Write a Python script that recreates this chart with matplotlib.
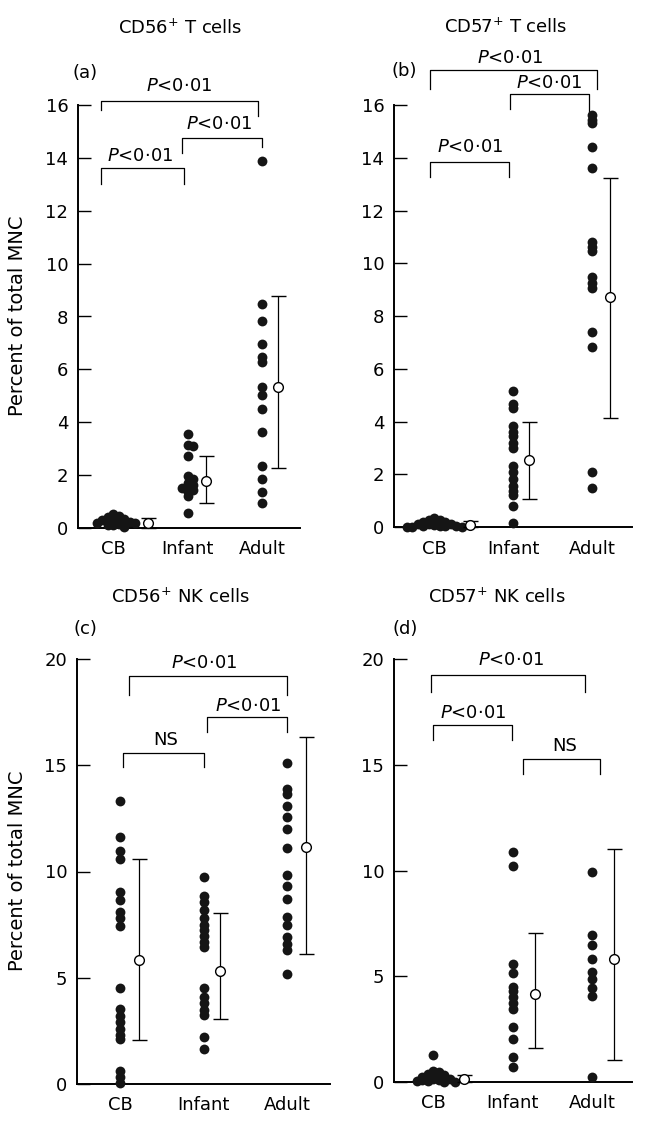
import numpy as np
import matplotlib
matplotlib.use('Agg')
import matplotlib.pyplot as plt

plt.rcParams['font.family'] = ['DejaVu Sans']
plt.rcParams['mathtext.fontset'] = 'custom'
plt.rcParams['mathtext.rm'] = 'DejaVu Sans'
plt.rcParams['mathtext.it'] = 'DejaVu Sans:italic'

groups = ['CB', 'Infant', 'Adult']

# (a) CD56+ T cells
a_cb = [0.52, 0.45, 0.42, 0.38, 0.33, 0.30, 0.30, 0.28, 0.25, 0.22, 0.20, 0.20, 0.18, 0.15, 0.12, 0.10, 0.05]
a_infant = [3.55, 3.15, 3.12, 2.72, 1.95, 1.85, 1.72, 1.62, 1.55, 1.50, 1.45, 1.38, 1.20, 0.58]
a_adult = [13.88, 8.48, 7.83, 6.97, 6.45, 6.29, 5.35, 5.04, 4.52, 3.65, 2.34, 1.86, 1.36, 0.95]
a_mean = [0.18, 1.76, 5.35]
a_lo = [0.0, 0.95, 2.27]
a_hi = [0.38, 2.73, 8.78]

# (b) CD57+ T cells
b_cb = [0.35, 0.28, 0.25, 0.22, 0.20, 0.18, 0.15, 0.12, 0.10, 0.10, 0.08, 0.05, 0.05, 0.03, 0.02, 0.0, 0.0, 0.0]
b_infant = [5.17, 4.67, 4.53, 3.83, 3.60, 3.45, 3.18, 2.98, 2.30, 2.10, 1.83, 1.56, 1.35, 1.22, 0.81, 0.14]
b_adult = [15.63, 15.45, 15.30, 14.42, 13.63, 10.79, 10.63, 10.48, 9.48, 9.27, 9.07, 7.38, 6.84, 2.07, 1.49]
b_mean = [0.07, 2.53, 8.73]
b_lo = [0.0, 1.08, 4.13]
b_hi = [0.24, 3.99, 13.24]

# (c) CD56+ NK cells
c_cb = [13.3, 11.62, 10.95, 10.6, 9.05, 8.65, 8.1, 7.8, 7.45, 4.5, 3.55, 3.2, 2.9, 2.6, 2.3, 2.1, 0.6, 0.35, 0.05]
c_infant = [9.72, 8.87, 8.55, 8.2, 7.8, 7.5, 7.25, 6.95, 6.7, 6.45, 4.5, 4.1, 3.8, 3.5, 3.25, 2.2, 1.63]
c_adult = [15.12, 13.9, 13.65, 13.1, 12.55, 12.0, 11.1, 9.84, 9.3, 8.72, 7.85, 7.5, 6.9, 6.6, 6.3, 5.2]
c_mean = [5.83, 5.34, 11.14]
c_lo = [2.05, 3.05, 6.1]
c_hi = [10.57, 8.07, 16.34]

# (d) CD57+ NK cells
d_cb = [1.26, 0.50, 0.45, 0.40, 0.35, 0.30, 0.28, 0.25, 0.20, 0.18, 0.15, 0.12, 0.10, 0.08, 0.05, 0.03, 0.0, 0.0]
d_infant = [10.87, 10.19, 5.56, 5.14, 4.5, 4.3, 4.0, 3.75, 3.45, 2.61, 2.02, 1.18, 0.71]
d_adult = [9.95, 6.95, 6.5, 5.8, 5.2, 4.85, 4.45, 4.05, 0.22]
d_mean = [0.13, 4.16, 5.81]
d_lo = [0.0, 1.63, 1.04]
d_hi = [0.34, 7.04, 11.0]

W, H = 648, 1129
fig = plt.figure(figsize=(W / 100, H / 100), dpi=100)

P = '$P$<0·01'


def swarm(vals, ypx, step, mind=3.2):
    # small horizontal spread for dots that would sit on top of each other
    placed, out = [], []
    for v in vals:
        y = v * ypx
        k = 0
        while True:
            cands = [0.0] if k == 0 else [k * step, -k * step]
            hit = None
            for dx in cands:
                if all((dx - px) ** 2 + (y - py) ** 2 >= mind ** 2 for px, py in placed):
                    hit = dx
                    break
            if hit is not None:
                placed.append((hit, y))
                out.append(hit)
                break
            k += 1
    return np.array(out)


def panel(box, xlim, ymax, yticks, data, mean, lo, hi, mdx, brackets):
    l, r, t, b = box
    ax = fig.add_axes([l / W, 1 - b / H, (r - l) / W, (b - t) / H])
    ax.set_xlim(*xlim)
    ax.set_ylim(0, ymax)
    xpx = (r - l) / (xlim[1] - xlim[0])
    ypx = (b - t) / ymax
    for i, vals in enumerate(data):
        off = swarm(vals, ypx, 5.5) / xpx
        ax.scatter(i + 1 + off, vals, s=50, color='#151515', linewidths=0,
                   clip_on=False, zorder=3)
    xs = np.arange(1, 4) + np.array(mdx)
    m = np.array(mean)
    yerr = [m - np.array(lo), np.array(hi) - m]
    ax.errorbar(xs, m, yerr=yerr, fmt='o', ms=7, mfc='white', mec='black', mew=1.0,
                ecolor='black', elinewidth=0.9, capsize=5.4, capthick=0.9,
                clip_on=False, zorder=4)
    for x1, x2, y, yl, yr, lab, tx, ty in brackets:
        ax.plot([x1, x1, x2, x2], [yl, y, y, yr], color='black', lw=0.9,
                clip_on=False)
        ax.text(tx, ty, lab, ha='center', va='center', fontsize=13)
    ax.set_xticks([1, 2, 3])
    ax.set_xticklabels(groups)
    ax.set_yticks(yticks)
    ax.tick_params(axis='x', length=0, pad=9, labelsize=13)
    ax.tick_params(axis='y', direction='in', length=9.4, width=1.0, pad=7, labelsize=13)
    for s in ['top', 'right']:
        ax.spines[s].set_visible(False)
    for s in ['left', 'bottom']:
        ax.spines[s].set_linewidth(1.4)
    return ax


panel((78, 300, 105, 528), (0.53, 3.51), 16, range(0, 17, 2),
      [a_cb, a_infant, a_adult], a_mean, a_lo, a_hi, [0.47, 0.25, 0.22],
      [(0.84, 2.95, 16.15, 15.8, 15.57, P, 1.89, 16.72),
       (1.93, 3.0, 14.76, 14.2, 14.4, P, 2.43, 15.3),
       (0.84, 1.95, 13.61, 13.0, 13.0, P, 1.36, 14.08)])

panel((394, 632, 105, 527), (0.49, 3.51), 16, range(0, 17, 2),
      [b_cb, b_infant, b_adult], b_mean, b_lo, b_hi, [0.46, 0.2, 0.23],
      [(0.95, 3.06, 17.33, 16.6, 16.6, P, 1.96, 17.8),
       (1.96, 2.96, 16.41, 15.84, 15.77, P, 2.46, 16.85),
       (0.95, 1.95, 13.83, 13.27, 13.27, P, 1.46, 14.42)])

panel((77, 330, 659, 1084), (0.485, 3.51), 20, range(0, 21, 5),
      [c_cb, c_infant, c_adult], c_mean, c_lo, c_hi, [0.23, 0.2, 0.22],
      [(1.11, 3.0, 19.19, 18.3, 18.3, P, 2.0, 19.8),
       (2.04, 3.0, 17.28, 16.55, 16.55, P, 2.53, 17.8),
       (1.03, 2.0, 15.58, 14.92, 14.92, 'NS', 1.54, 16.2)])

panel((394, 632, 659, 1082), (0.51, 3.5), 20, range(0, 21, 5),
      [d_cb, d_infant, d_adult], d_mean, d_lo, d_hi, [0.39, 0.28, 0.28],
      [(0.97, 2.91, 19.26, 18.42, 18.42, P, 1.98, 19.93),
       (1.0, 1.99, 16.88, 16.18, 16.18, P, 1.5, 17.44),
       (2.13, 3.1, 15.25, 14.57, 14.57, 'NS', 2.65, 15.89)])

titles = ['CD56$^{+}$ T cells', 'CD57$^{+}$ T cells', 'CD56$^{+}$ NK cells', 'CD57$^{+}$ NK cells']
title_xy = [(180, 28), (506, 27), (180, 597), (497, 597)]
for t, (x, y) in zip(titles, title_xy):
    fig.text(x / W, 1 - y / H, t, ha='center', va='center', fontsize=13)

for lab, (x, y) in zip(['(a)', '(b)', '(c)', '(d)'], [(85, 73), (404, 71), (85, 629), (405, 629)]):
    fig.text(x / W, 1 - y / H, lab, ha='center', va='center', fontsize=13)

for y in [316, 871]:
    fig.text(18 / W, 1 - y / H, 'Percent of total MNC', rotation=90,
             ha='center', va='center', fontsize=14)

fig.savefig('out.png', dpi=100)
